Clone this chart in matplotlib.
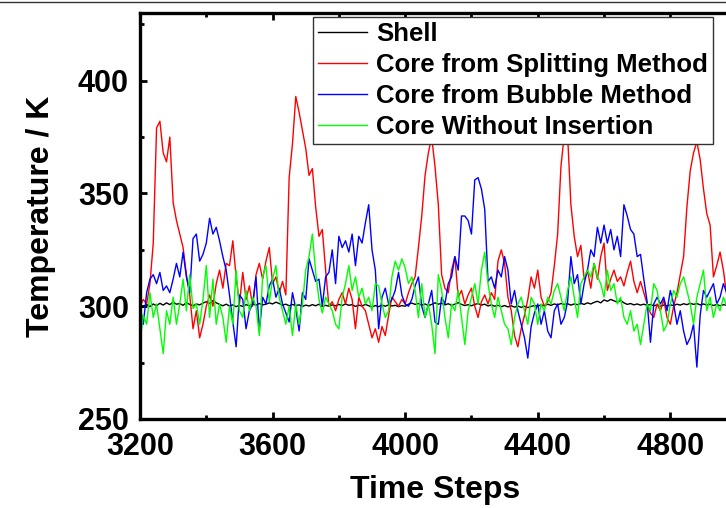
import numpy as np
import matplotlib
matplotlib.use("Agg")
import matplotlib.pyplot as plt
from matplotlib.lines import Line2D
from matplotlib.ticker import MultipleLocator

# ---- data (every 10 time steps) ----
steps = np.arange(3200, 5001, 10)

shell = [
    300.0, 299.5, 300.8, 299.8, 301.0, 300.2, 301.3, 300.5, 301.5, 300.7,
    301.8, 300.9, 301.2, 300.4, 301.6, 300.8, 300.2, 301.0, 300.6, 301.4,
    302.0, 301.2, 302.5, 301.5, 300.8, 300.2, 300.9, 300.1, 300.6, 299.8,
    300.4, 299.9, 300.7, 300.2, 301.0, 300.5, 301.2, 300.6, 300.9, 301.5,
    301.0, 301.8, 301.2, 300.5, 300.9, 300.2, 300.8, 300.3, 300.6, 299.9,
    300.5, 300.1, 300.7, 300.2, 300.9, 299.8, 300.4, 300.0, 300.6, 300.2,
    300.8, 300.3, 301.0, 300.4, 300.7, 299.9, 300.5, 300.1, 300.8, 300.2,
    299.6, 300.3, 299.8, 300.5, 300.0, 300.6, 300.1, 300.4, 299.8, 300.3,
    300.0, 300.9, 301.4, 300.8, 301.2, 300.5, 301.0, 300.3, 300.8, 301.5,
    300.9, 301.3, 300.6, 301.1, 300.4, 300.9, 301.6, 300.8, 300.3, 300.7,
    300.2, 300.8, 301.2, 300.5, 300.9, 300.1, 300.6, 300.0, 300.4, 299.8,
    300.3, 299.7, 300.2, 299.6, 300.1, 299.5, 300.0, 299.4, 299.9, 300.3,
    300.0, 300.6, 300.2, 300.9, 300.4, 301.0, 300.6, 301.2, 300.8, 301.1,
    300.5, 301.0, 300.7, 301.3, 300.8, 301.5, 301.0, 301.7, 302.2, 301.5,
    302.8, 302.2, 303.0, 302.4, 301.8, 302.6, 301.5, 300.8, 301.2, 300.6,
    301.0, 300.5, 300.9, 300.4, 300.8, 300.2, 300.6, 300.0, 300.5, 300.1,
    300.6, 300.3, 300.9, 300.5, 301.1, 300.7, 301.3, 300.8, 301.2, 300.6,
    301.0, 300.5, 300.9, 300.3, 300.8, 300.2, 300.7, 300.4, 300.9, 300.5,
    301.0,
]

splitting = [
    300, 303, 301, 310, 328, 379, 382, 368, 364, 375,
    346, 338, 332, 326, 314, 305, 290, 298, 286, 292,
    300, 305, 300, 310, 316, 308, 319, 318, 329, 313,
    301, 315, 303, 309, 300, 314, 319, 312, 320, 326,
    310, 313, 306, 311, 305, 357, 372, 393, 386, 378,
    370, 358, 361, 344, 331, 334, 316, 300, 302, 298,
    303, 306, 301, 308, 303, 290, 304, 300, 298, 292,
    286, 290, 284, 291, 287, 296, 304, 302, 300, 303,
    301, 306, 310, 313, 326, 340, 358, 368, 375, 362,
    345, 314, 308, 306, 316, 322, 304, 307, 301, 305,
    308, 300, 295, 302, 305, 301, 306, 303, 320, 325,
    319, 304, 298, 287, 282, 290, 296, 303, 313, 308,
    316, 304, 300, 302, 306, 318, 332, 362, 376, 376,
    345, 331, 322, 327, 312, 316, 308, 319, 312, 322,
    328, 307, 312, 316, 311, 313, 309, 315, 320, 311,
    306, 311, 306, 301, 297, 295, 301, 298, 303, 295,
    292, 300, 306, 314, 322, 344, 360, 368, 373, 365,
    352, 341, 336, 313, 318, 324, 316, 305, 300, 305,
    302,
]

bubble = [
    300, 292, 306, 312, 314, 310, 315, 307, 309, 306,
    312, 319, 313, 324, 313, 306, 330, 332, 320, 323,
    328, 339, 332, 335, 329, 322, 316, 305, 293, 282,
    305, 303, 290, 298, 301, 313, 289, 304, 301, 309,
    312, 304, 308, 301, 297, 293, 306, 299, 289, 306,
    303, 321, 316, 311, 312, 300, 313, 315, 325, 310,
    331, 326, 329, 324, 332, 318, 331, 328, 337, 345,
    325, 316, 290, 304, 308, 301, 303, 307, 315, 305,
    301, 300, 303, 309, 313, 300, 295, 301, 307, 293,
    292, 304, 301, 310, 313, 322, 316, 340, 340, 338,
    332, 356, 357, 352, 343, 311, 313, 308, 316, 313,
    322, 316, 301, 307, 298, 292, 286, 277, 291, 297,
    301, 292, 298, 289, 286, 298, 301, 292, 295, 302,
    322, 310, 314, 301, 310, 316, 325, 322, 335, 328,
    336, 328, 334, 325, 331, 322, 345, 340, 334, 332,
    322, 323, 312, 302, 284, 301, 304, 301, 304, 298,
    307, 301, 292, 298, 289, 283, 286, 292, 273, 296,
    307, 304, 307, 310, 301, 304, 310, 306, 302, 305,
    300,
]

without = [
    284, 296, 292, 306, 295, 301, 290, 279, 298, 292,
    304, 292, 301, 312, 298, 314, 299, 301, 292, 303,
    318, 295, 312, 292, 301, 295, 284, 300, 292, 316,
    298, 295, 307, 298, 304, 300, 287, 313, 318, 302,
    312, 318, 304, 298, 292, 300, 287, 301, 292, 301,
    316, 322, 332, 315, 303, 297, 304, 301, 298, 292,
    290, 304, 310, 318, 307, 313, 304, 308, 301, 304,
    298, 310, 309, 301, 295, 298, 313, 320, 316, 321,
    317, 310, 313, 307, 295, 310, 295, 301, 292, 279,
    314, 307, 295, 286, 301, 298, 307, 295, 283, 298,
    304, 310, 301, 316, 324, 310, 301, 295, 304, 298,
    292, 290, 283, 295, 301, 304, 298, 292, 304, 301,
    292, 301, 298, 304, 301, 307, 310, 304, 298, 307,
    313, 304, 295, 310, 313, 316, 313, 319, 313, 310,
    304, 316, 307, 310, 301, 304, 295, 292, 298, 289,
    292, 283, 292, 301, 298, 310, 307, 298, 289, 292,
    301, 307, 304, 310, 313, 307, 301, 292, 304, 310,
    316, 298, 304, 295, 301, 298, 304, 300, 296, 302,
    299,
]

labels = ["Shell", "Core from Splitting Method",
          "Core from Bubble Method", "Core Without Insertion"]
colors = ["black", "#ff0000", "#0000ff", "#00ff00"]
x_ticks = [3200, 3600, 4000, 4400, 4800]
y_ticks = [250, 300, 350, 400]

# ---- figure ----
plt.rcParams["font.family"] = ["Liberation Sans", "DejaVu Sans"]
plt.rcParams["font.weight"] = "bold"

fig = plt.figure(figsize=(7.26, 5.08), dpi=100)
W, H = 726, 508
ax = fig.add_axes([140 / W, (H - 419) / H, 590 / W, 406 / H])

for series, lab, col in zip([shell, splitting, bubble, without], labels, colors):
    ax.plot(steps, series, color=col, lw=1.0, label=lab)

ax.set_xlim(3200, 4980)
ax.set_ylim(250, 430)
ax.set_xticks(x_ticks)
ax.set_yticks(y_ticks)
ax.xaxis.set_minor_locator(MultipleLocator(200))
ax.yaxis.set_minor_locator(MultipleLocator(25))

for sp in ax.spines.values():
    sp.set_linewidth(2.4)
ax.spines["right"].set_visible(False)

ax.tick_params(which="major", direction="in", length=5, width=2.0,
               top=True, right=False, labelsize=22, pad=8)
ax.tick_params(which="minor", direction="in", length=3, width=2.0,
               top=True, right=False)
ax.tick_params(axis="x", which="major", pad=9.5)
for lbl in ax.get_xticklabels() + ax.get_yticklabels():
    lbl.set_fontweight("bold")

ax.set_xlabel("Time Steps", fontsize=23, fontweight="bold", labelpad=9)
ax.set_ylabel("Temperature / K", fontsize=23, fontweight="bold", labelpad=16)

leg = ax.legend(loc="upper left", bbox_to_anchor=(313 / W, 1 - 17 / H),
                bbox_transform=fig.transFigure, borderaxespad=0,
                prop={"size": 18.5, "weight": "bold"}, handlelength=1.9,
                handletextpad=0.35, labelspacing=0.27, borderpad=0.2,
                fancybox=False, framealpha=1, edgecolor="#333333")
leg.get_frame().set_linewidth(1.0)

fig.add_artist(Line2D([0, 1], [1 - 1.5 / H, 1 - 1.5 / H], transform=fig.transFigure,
                      color="#333333", lw=1.0))

fig.savefig("out.png", dpi=100)
